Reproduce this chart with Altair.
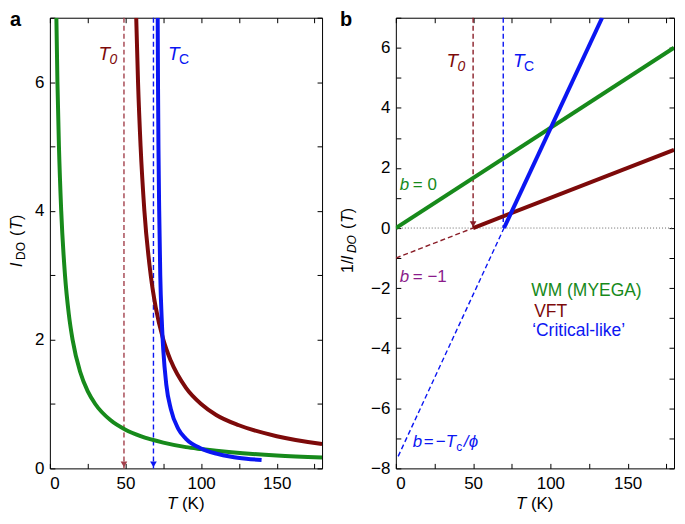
import altair as alt
import pandas as pd

FONT = "Liberation Sans"

# ---------------- values ----------------
# Panel a : I_DO(T)
T_wm_a = [4.3, 5.0, 6.0, 7.5, 10, 12.5, 15, 20, 25, 30, 40, 50, 60, 75, 90, 100, 120, 150, 180]
I_wm_a = [7.0, 6.0, 5.0, 4.0, 3.0, 2.4, 2.0, 1.5, 1.2, 1.0, 0.75, 0.6, 0.5, 0.4, 0.33, 0.3, 0.25, 0.2, 0.17]
T_vft_a = [57.1, 58.3, 60, 62.5, 66.7, 70, 75, 80, 90, 100, 110, 125, 150, 180]
I_vft_a = [7.0, 6.0, 5.0, 4.0, 3.0, 2.5, 2.0, 1.67, 1.25, 1.0, 0.83, 0.67, 0.5, 0.38]
T_crit_a = [71.3, 71.5, 71.8, 72.3, 73, 74, 75, 77, 80, 85, 90, 100, 110, 120, 130, 140]
I_crit_a = [7.0, 6.0, 5.0, 4.0, 3.0, 2.3, 1.84, 1.3, 0.92, 0.61, 0.46, 0.31, 0.23, 0.18, 0.15, 0.13]
T0_a = [49]
Tc_a = [68.5]

# Panel b : 1/I_DO(T)
T_wm_b = [0, 180]
R_wm_b = [0.0, 6.0]
T_vft_b = [50, 180]
R_vft_b = [0.0, 2.6]
T_vft_b_ext = [0, 50]
R_vft_b_ext = [-1.0, 0.0]
T_crit_b = [70, 133.5]
R_crit_b = [0.0, 7.0]
T_crit_b_ext = [1.5, 70]
R_crit_b_ext = [-7.6, 0.0]
T0_b = [50]
Tc_b = [69.5]

x_ticks_major = [0, 50, 100, 150]
x_ticks_all = [0, 25, 50, 75, 100, 125, 150, 175]
ya_ticks_major = [0, 2, 4, 6]
ya_ticks_all = [0, 1, 2, 3, 4, 5, 6, 7]
yb_ticks_major = [-8, -6, -4, -2, 0, 2, 4, 6]
yb_ticks_all = [-8, -7, -6, -5, -4, -3, -2, -1, 0, 1, 2, 3, 4, 5, 6, 7]

GREEN = "#178A1B"
RED = "#7D0A0A"
BLUE = "#0B16F2"
RED_DASH_A = "#A3404C"
RED_DASH_B = "#8A1E28"
PURPLE = "#8B1C8B"

W_A, W_B, H = 273, 279, 452

xs = alt.Scale(domain=[0, 180], nice=False, zero=False)
ysa = alt.Scale(domain=[0, 7], nice=False, zero=False)
ysb = alt.Scale(domain=[-8, 7], nice=False, zero=False)


def df(T, v):
    return pd.DataFrame({"T": T, "v": v})


def X(axis=None):
    return alt.X("T:Q", scale=xs, axis=axis)


def Y(ys, axis=None):
    return alt.Y("v:Q", scale=ys, axis=axis)


def label_axis(values, pad):
    return alt.Axis(values=values, ticks=False, domain=False, grid=False, title=None,
                    labelFontSize=17, labelPadding=pad, labelColor="black", labelFont=FONT)


def tick_axis(orient, values):
    return alt.Axis(orient=orient, values=values, offset=-5, tickSize=5, ticks=True,
                    labels=False, domain=False, grid=False, title=None,
                    tickColor="black", tickWidth=1)


def curve(T, v, ys, color, width=4, dash=None):
    kw = dict(strokeWidth=width, clip=True, color=color, interpolate="monotone")
    if dash:
        kw["strokeDash"] = dash
    return alt.Chart(df(T, v)).mark_line(**kw).encode(x=X(), y=Y(ys))


def vdash(Tv, top, ys, color):
    d = pd.DataFrame({"T": Tv, "v": [top], "v2": [0]})
    return alt.Chart(d).mark_rule(color=color, strokeWidth=1.4, strokeDash=[5, 3]).encode(
        x=X(), y=alt.Y("v:Q", scale=ys, axis=None), y2="v2:Q")


def arrow(Tv, ys, color):
    d = pd.DataFrame({"T": Tv, "v": [0]})
    return alt.Chart(d).mark_point(shape="triangle-down", filled=True, size=45, color=color,
                                   opacity=1, yOffset=-4).encode(x=X(), y=Y(ys))


def txt(x, y, text, ys, color, size=17, style="normal", dx=0, dy=0):
    d = pd.DataFrame({"T": [x], "v": [y]})
    return alt.Chart(d).mark_text(text=text, align="left", baseline="alphabetic", font=FONT,
                                  fontSize=size, fontStyle=style, color=color, dx=dx, dy=dy).encode(
        x=X(), y=Y(ys))


def ptxt(px, py, text, size=17, style="normal", weight="normal", dx=0, dy=0, angle=0,
         baseline="alphabetic"):
    d = pd.DataFrame({"k": [0]})
    kw = dict(text=text, align="left", baseline=baseline, font=FONT, fontSize=size,
              fontStyle=style, fontWeight=weight, color="black", dx=dx, dy=dy)
    if angle:
        kw["angle"] = angle
    return alt.Chart(d).mark_text(**kw).encode(x=alt.value(px), y=alt.value(py))


def frame_layers(ys, ymaj, yall, lpad_y):
    d = pd.DataFrame({"T": [0, 180], "v": ys.domain})
    lab = alt.Chart(d).mark_point(opacity=0, size=0).encode(
        x=X(label_axis(x_ticks_major, 7)), y=Y(ys, label_axis(ymaj, lpad_y)))
    t1 = alt.Chart(d).mark_point(opacity=0, size=0).encode(
        x=X(tick_axis("bottom", x_ticks_all)), y=Y(ys, tick_axis("left", yall)))
    t2 = alt.Chart(d).mark_point(opacity=0, size=0).encode(
        x=X(tick_axis("top", x_ticks_all)), y=Y(ys, tick_axis("right", yall)))
    return [lab, t1, t2]


def xtitle(w):
    x0 = w / 2 - 19
    return [ptxt(x0, H + 41, "T", style="italic"), ptxt(x0, H + 41, "(K)", dx=15)]


# ---------------- panel a ----------------
layers_a = frame_layers(ysa, ya_ticks_major, ya_ticks_all, 6) + [
    vdash(T0_a, 7, ysa, RED_DASH_A),
    vdash(Tc_a, 7, ysa, BLUE),
    arrow(T0_a, ysa, RED_DASH_A),
    arrow(Tc_a, ysa, BLUE),
    curve(T_wm_a, I_wm_a, ysa, GREEN),
    curve(T_vft_a, I_vft_a, ysa, RED),
    curve(T_crit_a, I_crit_a, ysa, BLUE),
    txt(32.2, 6.34, "T", ysa, RED, size=19, style="italic"),
    txt(32.2, 6.34, "0", ysa, RED, size=14, style="italic", dx=11, dy=4),
    txt(78.2, 6.34, "T", ysa, BLUE, size=19, style="italic"),
    txt(78.2, 6.34, "C", ysa, BLUE, size=14, dx=11, dy=4),
    ptxt(-40, -8, "a", size=20, weight="bold", baseline="top"),
    # y title  I_DO (T)
    ptxt(-28, 250, "I", angle=270, style="italic", size=16),
    ptxt(-28, 250, "DO", angle=270, size=12, dx=7, dy=3),
    ptxt(-28, 250, "(", angle=270, size=16, dx=31),
    ptxt(-28, 250, "T", angle=270, size=16, style="italic", dx=37),
    ptxt(-28, 250, ")", angle=270, size=16, dx=47),
] + xtitle(W_A)

panel_a = alt.layer(*layers_a).resolve_axis(x="independent", y="independent").properties(
    width=W_A, height=H)

# ---------------- panel b ----------------
zero_line = alt.Chart(df([0, 180], [0, 0])).mark_line(
    color="#666666", strokeWidth=1, strokeDash=[1, 2]).encode(x=X(), y=Y(ysb))

layers_b = frame_layers(ysb, yb_ticks_major, yb_ticks_all, 6) + [
    zero_line,
    curve(T_vft_b_ext, R_vft_b_ext, ysb, RED_DASH_B, width=1.4, dash=[5, 3]),
    curve(T_crit_b_ext, R_crit_b_ext, ysb, BLUE, width=1.4, dash=[5, 3]),
    vdash(T0_b, 7, ysb, RED_DASH_B),
    vdash(Tc_b, 7, ysb, BLUE),
    arrow(T0_b, ysb, RED_DASH_B),
    curve(T_wm_b, R_wm_b, ysb, GREEN),
    curve(T_vft_b, R_vft_b, ysb, RED),
    curve(T_crit_b, R_crit_b, ysb, BLUE),
    txt(32.8, 5.35, "T", ysb, RED, size=19, style="italic"),
    txt(32.8, 5.35, "0", ysb, RED, size=14, style="italic", dx=11, dy=4),
    txt(75.8, 5.35, "T", ysb, BLUE, size=19, style="italic"),
    txt(75.8, 5.35, "C", ysb, BLUE, size=14, dx=11, dy=4),
    txt(2.6, 1.26, "b", ysb, GREEN, style="italic"),
    txt(2.6, 1.26, "= 0", ysb, GREEN, dx=13),
    txt(2.6, -1.78, "b", ysb, PURPLE, style="italic"),
    txt(2.6, -1.78, "= \u22121", ysb, PURPLE, dx=13),
    txt(11, -7.3, "b", ysb, BLUE, style="italic"),
    txt(11, -7.3, "=", ysb, BLUE, dx=11),
    txt(11, -7.3, "\u2212", ysb, BLUE, dx=23),
    txt(11, -7.3, "T", ysb, BLUE, style="italic", dx=33),
    txt(11, -7.3, "c", ysb, BLUE, size=12, dx=43.5, dy=4),
    txt(11, -7.3, "/", ysb, BLUE, style="italic", dx=51),
    txt(11, -7.3, "\u03d5", ysb, BLUE, style="italic", dx=56),
    txt(87.6, -2.26, "WM (MYEGA)", ysb, GREEN, size=17.5),
    txt(89.5, -2.95, "VFT", ysb, RED, size=17.5),
    txt(88.2, -3.6, "\u2018Critical-like\u2019", ysb, BLUE, size=17.5),
    ptxt(-56, -8, "b", size=20, weight="bold", baseline="top"),
    # y title 1/I_DO (T)
    ptxt(-43, 256, "1/", angle=270, size=16),
    ptxt(-43, 256, "I", angle=270, size=16, style="italic", dx=13),
    ptxt(-43, 256, "DO", angle=270, size=12, style="italic", dx=20, dy=3),
    ptxt(-43, 256, "(", angle=270, size=16, dx=44),
    ptxt(-43, 256, "T", angle=270, size=16, style="italic", dx=50),
    ptxt(-43, 256, ")", angle=270, size=16, dx=60),
] + xtitle(W_B)

panel_b = alt.layer(*layers_b).resolve_axis(x="independent", y="independent").properties(
    width=W_B, height=H)

chart = alt.hconcat(panel_a, panel_b, spacing=16).properties(
    padding={"left": 0, "top": 0, "right": 0, "bottom": 0}
).configure_view(stroke="black", strokeWidth=1).configure_text(font=FONT)

chart.save("out.html", embed_options={"renderer": "svg", "actions": False})
